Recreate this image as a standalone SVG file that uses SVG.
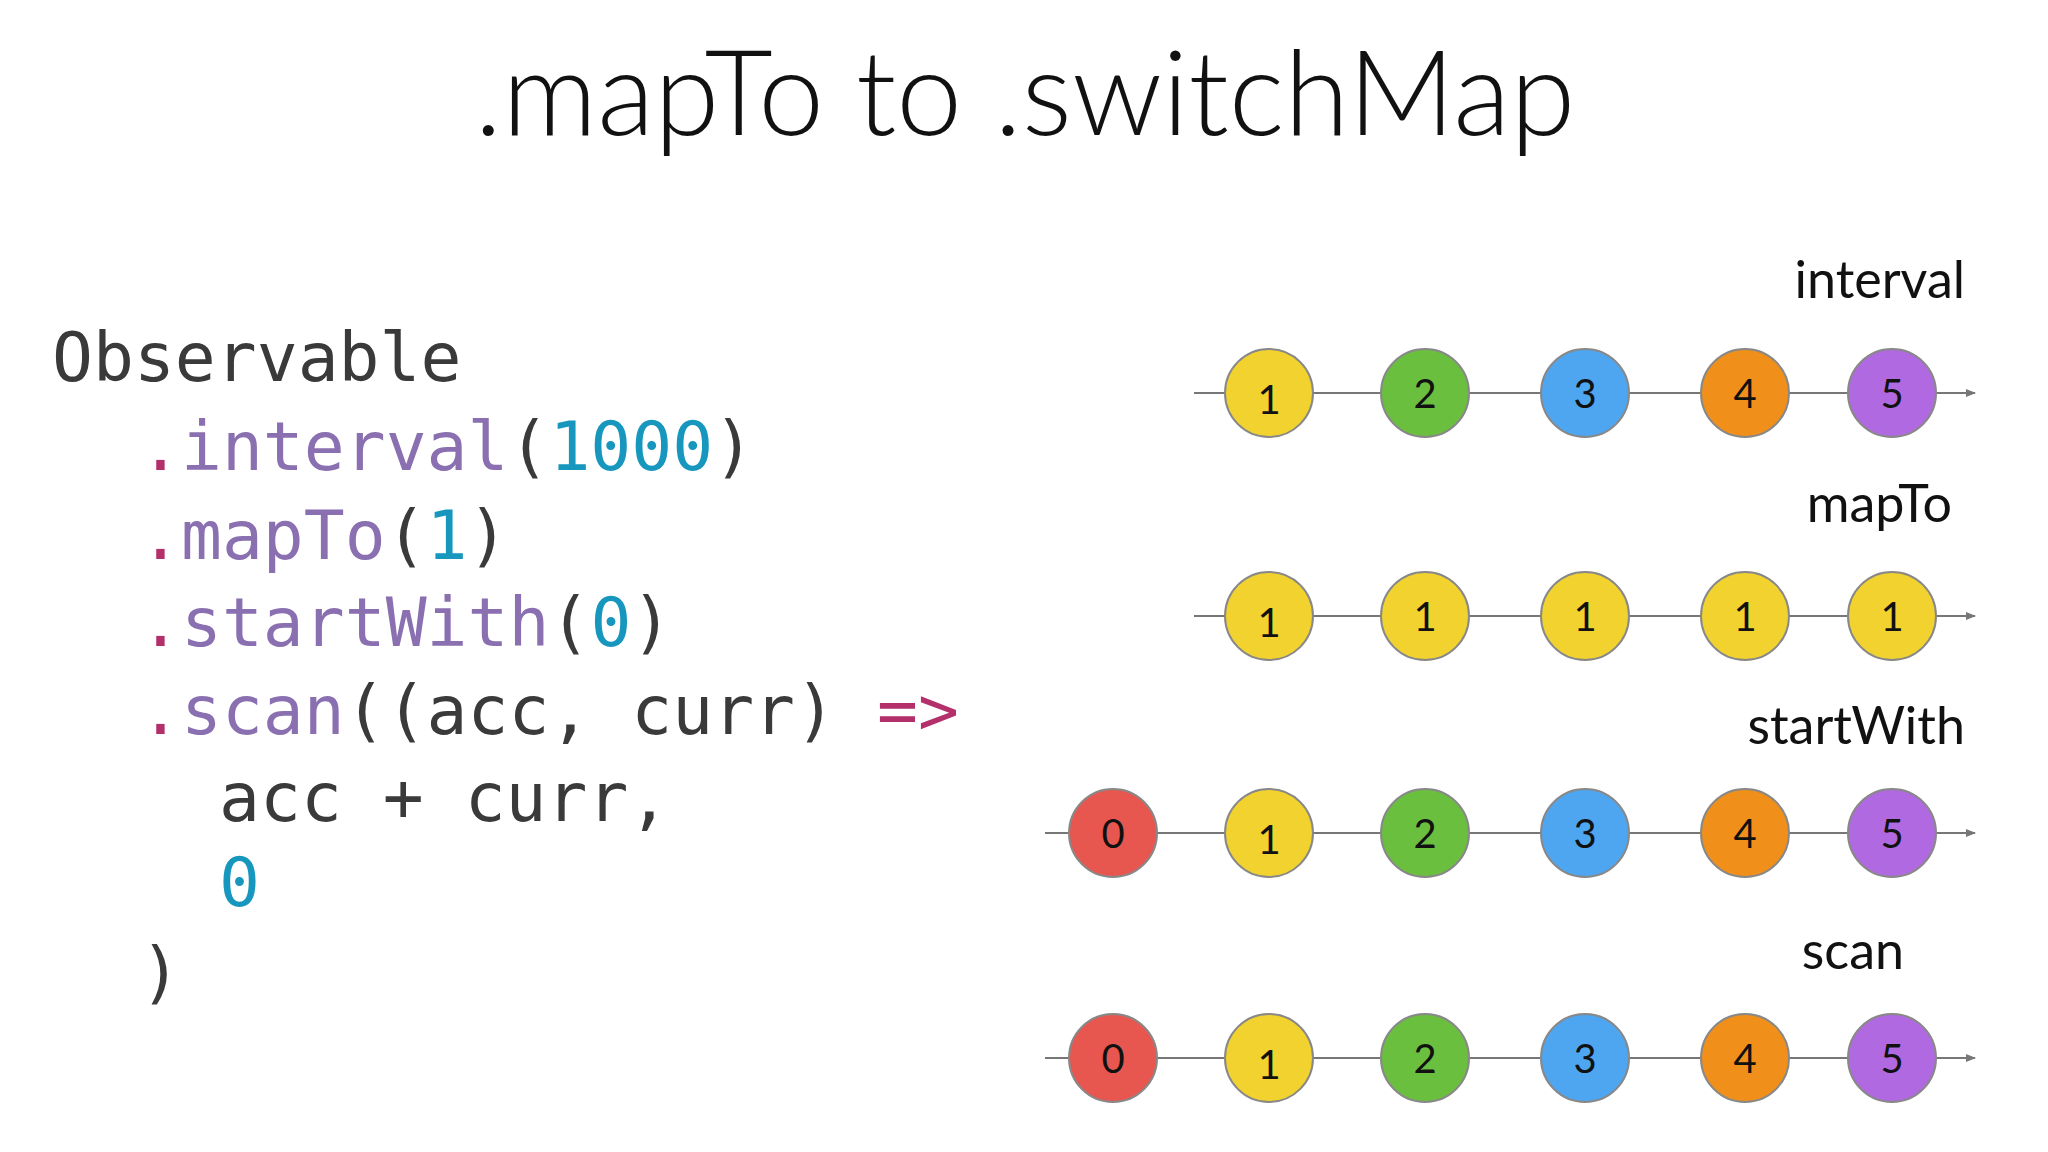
<svg xmlns="http://www.w3.org/2000/svg" width="2048" height="1152" viewBox="0 0 2048 1152">
<style>
.t{font-family:Lato,"Open Sans",sans-serif;font-weight:300;fill:#111}
.c{font-family:"DejaVu Sans Mono","Liberation Mono",monospace;font-size:68px;fill:#3a3a3a}
.p{fill:#8a70b0}.d{fill:#b3306a}.n{fill:#1797bd}
.lbl{font-family:Lato,sans-serif;font-size:52px;fill:#111;text-anchor:end}
.ln{stroke:#777;stroke-width:2;fill:none}
.m{stroke:#888;stroke-width:2}
.mt{font-family:Lato,"Liberation Sans",sans-serif;font-size:40px;fill:#111;text-anchor:middle;dominant-baseline:central}
.r{fill:#e8574f}.y{fill:#f2d22e}.g{fill:#6bbf3f}.b{fill:#4ea6f0}.o{fill:#f0901a}.v{fill:#b069e0}
</style>
<defs><marker id="a" markerWidth="10" markerHeight="8" refX="9" refY="4" orient="auto" markerUnits="userSpaceOnUse"><path d="M0,0 L10,4 L0,8 Z" fill="#777"/></marker>
<g id="tpl"/></defs>
<rect width="2048" height="1152" fill="#fff"/>
<text class="t" x="1025" y="135" font-size="118" text-anchor="middle">.mapTo to .switchMap</text>
<g id="code">
<text class="c" x="52" y="381">Observable</text>
<text class="c" x="140" y="470"><tspan class="d">.</tspan><tspan class="p">interval</tspan>(<tspan class="n">1000</tspan>)</text>
<text class="c" x="140" y="559"><tspan class="d">.</tspan><tspan class="p">mapTo</tspan>(<tspan class="n">1</tspan>)</text>
<text class="c" x="140" y="646"><tspan class="d">.</tspan><tspan class="p">startWith</tspan>(<tspan class="n">0</tspan>)</text>
<text class="c" x="140" y="734"><tspan class="d">.</tspan><tspan class="p">scan</tspan>((acc, curr) <tspan class="d">=&gt;</tspan></text>
<text class="c" x="219" y="821">acc + curr,</text>
<text class="c n" x="219" y="906">0</text>
<text class="c" x="140" y="996">)</text>
</g>
<g id="labels">
<text class="lbl" x="1965" y="298">interval</text>
<text class="lbl" x="1952" y="522">mapTo</text>
<text class="lbl" x="1965" y="744">startWith</text>
<text class="lbl" x="1904" y="969">scan</text>
</g>
<g id="connectors">
<line class="ln" x1="1194" y1="393" x2="1975" y2="393" marker-end="url(#a)"/>
<line class="ln" x1="1194" y1="616" x2="1975" y2="616" marker-end="url(#a)"/>
<line class="ln" x1="1045" y1="833" x2="1975" y2="833" marker-end="url(#a)"/>
<line class="ln" x1="1045" y1="1058" x2="1975" y2="1058" marker-end="url(#a)"/>
</g>
<g id="row1">
<circle class="m y" cx="1269" cy="393" r="44"/><text class="mt" x="1269" y="399">1</text>
<circle class="m g" cx="1425" cy="393" r="44"/><text class="mt" x="1425" y="393">2</text>
<circle class="m b" cx="1585" cy="393" r="44"/><text class="mt" x="1585" y="393">3</text>
<circle class="m o" cx="1745" cy="393" r="44"/><text class="mt" x="1745" y="393">4</text>
<circle class="m v" cx="1892" cy="393" r="44"/><text class="mt" x="1892" y="393">5</text>
</g>
<g id="row2">
<circle class="m y" cx="1269" cy="616" r="44"/><text class="mt" x="1269" y="622">1</text>
<circle class="m y" cx="1425" cy="616" r="44"/><text class="mt" x="1425" y="616">1</text>
<circle class="m y" cx="1585" cy="616" r="44"/><text class="mt" x="1585" y="616">1</text>
<circle class="m y" cx="1745" cy="616" r="44"/><text class="mt" x="1745" y="616">1</text>
<circle class="m y" cx="1892" cy="616" r="44"/><text class="mt" x="1892" y="616">1</text>
</g>
<g id="row3">
<circle class="m r" cx="1113" cy="833" r="44"/><text class="mt" x="1113" y="833">0</text>
<circle class="m y" cx="1269" cy="833" r="44"/><text class="mt" x="1269" y="839">1</text>
<circle class="m g" cx="1425" cy="833" r="44"/><text class="mt" x="1425" y="833">2</text>
<circle class="m b" cx="1585" cy="833" r="44"/><text class="mt" x="1585" y="833">3</text>
<circle class="m o" cx="1745" cy="833" r="44"/><text class="mt" x="1745" y="833">4</text>
<circle class="m v" cx="1892" cy="833" r="44"/><text class="mt" x="1892" y="833">5</text>
</g>
<g id="row4">
<circle class="m r" cx="1113" cy="1058" r="44"/><text class="mt" x="1113" y="1058">0</text>
<circle class="m y" cx="1269" cy="1058" r="44"/><text class="mt" x="1269" y="1064">1</text>
<circle class="m g" cx="1425" cy="1058" r="44"/><text class="mt" x="1425" y="1058">2</text>
<circle class="m b" cx="1585" cy="1058" r="44"/><text class="mt" x="1585" y="1058">3</text>
<circle class="m o" cx="1745" cy="1058" r="44"/><text class="mt" x="1745" y="1058">4</text>
<circle class="m v" cx="1892" cy="1058" r="44"/><text class="mt" x="1892" y="1058">5</text>
</g>
</svg>
